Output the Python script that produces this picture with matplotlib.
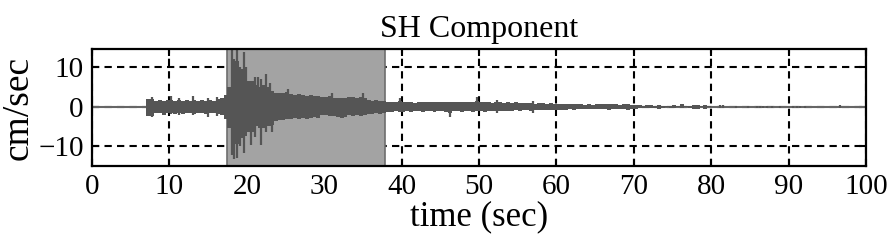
import numpy as np
import matplotlib.pyplot as plt

plt.rcParams['font.family'] = ['Liberation Serif', 'DejaVu Serif']

# envelope of the trace in 0.5 s bins starting at 7.0 s (upper, lower), cm/sec
bin_start = 7.0
bin_w = 0.5
env_hi = [2.0, 1.9, 1.5, 1.7, 1.5, 1.6, 1.8, 1.4, 1.6, 1.5,
          1.7, 1.4, 1.6, 1.5, 1.7, 1.5, 1.6, 1.5, 1.9, 2.3,
          3.0, 5.0, 10.0, 11.5, 9.5, 9.0, 6.5, 6.5, 5.5, 5.0,
          5.5, 5.0, 4.0, 3.5, 3.6, 3.6, 3.8, 3.3, 3.0, 3.2,
          3.0, 2.8, 3.0, 2.8, 2.6, 2.5, 2.4, 2.6, 2.3, 2.2,
          2.3, 2.2, 2.4, 2.5, 2.3, 2.5, 2.2, 1.6, 1.5, 1.7,
          1.5, 1.4, 1.3, 1.2, 1.3, 1.5,
          1.1, 1.3, 1.2, 1.0, 1.3, 1.2, 1.1, 1.3, 1.2, 1.3,
          1.1, 1.2, 1.3, 1.1, 1.2, 1.3, 1.1, 1.2, 1.3, 1.4,
          1.2, 1.1, 1.2, 1.0, 1.1, 1.2, 1.0, 1.1, 1.0, 1.1,
          0.9, 1.0, 0.9, 1.0, 0.8, 0.9, 0.9, 0.8, 1.0, 0.8,
          0.8, 0.7, 0.8, 0.6, 0.7, 0.6, 0.6, 0.5, 0.6, 0.5,
          0.6, 0.6, 0.7, 0.6, 0.7, 0.6, 0.5, 0.6, 0.7, 0.5,
          0.5, 0.5, 0.2, 0.4, 0.4, 0.2, 0.4, 0.2, 0.1, 0.2,
          0.4, 0.1, 0.6, 0.1, 0.2, 0.5, 0.5, 0.1, 0.5, 0.1]
env_lo = [-2.4, -2.3, -1.6, -1.5, -2.0, -1.6, -1.7, -1.8, -1.5, -1.9,
          -1.5, -1.6, -1.8, -1.5, -1.6, -1.9, -1.5, -1.7, -1.8, -2.0,
          -3.0, -5.5, -10.5, -9.5, -8.0, -7.5, -6.5, -6.5, -5.0, -5.5,
          -5.5, -5.0, -4.5, -3.5, -3.3, -3.4, -3.0, -3.0, -2.8, -3.0,
          -2.8, -3.0, -2.9, -2.6, -2.8, -2.2, -2.0, -2.3, -2.4, -2.7,
          -2.8, -2.5, -2.2, -2.3, -2.2, -2.4, -2.2, -1.9, -1.8, -1.7,
          -1.8, -1.6, -1.3, -1.3, -1.2, -1.3,
          -1.3, -1.1, -1.4, -1.2, -1.2, -1.3, -1.1, -1.2, -1.4, -1.1,
          -1.2, -1.3, -1.6, -1.2, -1.1, -1.3, -1.2, -1.1, -1.3, -1.2,
          -1.1, -1.3, -1.0, -1.2, -1.1, -1.0, -1.1, -1.0, -1.1, -0.9,
          -1.0, -0.9, -0.8, -1.0, -0.9, -0.8, -0.9, -0.8, -0.9, -0.8,
          -0.7, -0.7, -0.8, -0.6, -0.7, -0.5, -0.6, -0.5, -0.6, -0.5,
          -0.6, -0.5, -0.6, -0.7, -0.6, -0.6, -0.5, -0.6, -0.7, -0.6,
          -0.5, -0.4, -0.2, -0.4, -0.4, -0.2, -0.5, -0.2, -0.1, -0.2,
          -0.3, -0.1, -0.3, -0.1, -0.2, -0.5, -0.5, -0.1, -0.5, -0.1]

# individual peaks standing out of the envelope
spike_t = [7.8, 10.2, 11.3, 13.1, 15.0, 16.2,
           18.1, 18.3, 18.7, 19.1, 19.6, 19.9, 20.5, 21.0, 21.5, 21.9,
           22.5, 23.0, 23.3, 25.3, 31.0, 35.0,
           39.8, 46.3, 49.7, 52.3, 57.0,
           81.2, 81.5, 83.2, 84.8, 85.9, 86.3, 86.7, 87.2, 87.8, 88.9,
           90.6, 91.1, 91.5, 92.1, 96.6]
spike_hi = [2.5, 2.6, 2.3, 2.6, 2.2, 2.4,
            14.3, 12.0, 14.7, 10.0, 13.9, 10.0, 5.0, 7.6, 7.6, 7.1,
            8.4, 6.0, 4.0, 4.6, 3.4, 3.4,
            2.1, 1.2, 2.5, 1.6, 1.4,
            0.4, 0.4, 0.3, 0.3, 0.3, 0.3, 0.3, 0.2, 0.3, 0.3,
            0.3, 0.3, 0.2, 0.2, 0.4]
spike_lo = [-2.6, -1.8, -2.2, -2.0, -2.5, -2.3,
            -12.2, -13.2, -13.0, -10.0, -11.8, -6.5, -9.7, -7.6, -5.0, -9.7,
            -6.3, -5.0, -6.5, -3.0, -2.0, -2.2,
            -1.3, -2.5, -1.2, -1.5, -1.5,
            -0.4, -0.4, -0.3, -0.3, -0.3, -0.3, -0.3, -0.4, -0.3, -0.3,
            -0.3, -0.3, -0.4, -0.4, -0.4]

window = (17.4, 37.9)

wave_col = '#555555'
fig = plt.figure(figsize=(8.88, 2.43), dpi=100)
ax = fig.add_axes([0.1036, 0.317, 0.8716, 0.481])

t_mid = bin_start + bin_w * (np.arange(len(env_hi)) + 0.5)
hi = np.array(env_hi)
lo = np.array(env_lo)

ax.axhline(0, color='#666666', lw=1.5, zorder=3)
ax.axvspan(window[0], window[1], facecolor='#a3a3a3', edgecolor='#6e6e6e',
           lw=1.2, zorder=2)
ax.bar(t_mid, hi - lo, bottom=lo, width=bin_w, color=wave_col, lw=0, zorder=4)
ax.vlines(spike_t, spike_lo, spike_hi, color=wave_col, lw=1.6, zorder=4)

ax.set_xlim(0, 100)
ax.set_ylim(-15, 14.6)
ax.set_xticks(np.arange(0, 101, 10))
ax.set_yticks([-10, 0, 10])
ax.grid(True, color='black', lw=1.5, linestyle=(0, (3.5, 2.5)), zorder=1)
ax.set_axisbelow(True)
ax.tick_params(direction='in', top=True, right=True, length=5, width=1.5,
               labelsize=21, pad=6)
for s in ax.spines.values():
    s.set_linewidth(1.6)
    s.set_zorder(5)

ax.set_title('SH Component', fontsize=23, pad=9)
ax.set_xlabel('time (sec)', fontsize=25, labelpad=0)
ax.set_ylabel('cm/sec', fontsize=27, labelpad=2)

fig.savefig('out.png', dpi=100)
